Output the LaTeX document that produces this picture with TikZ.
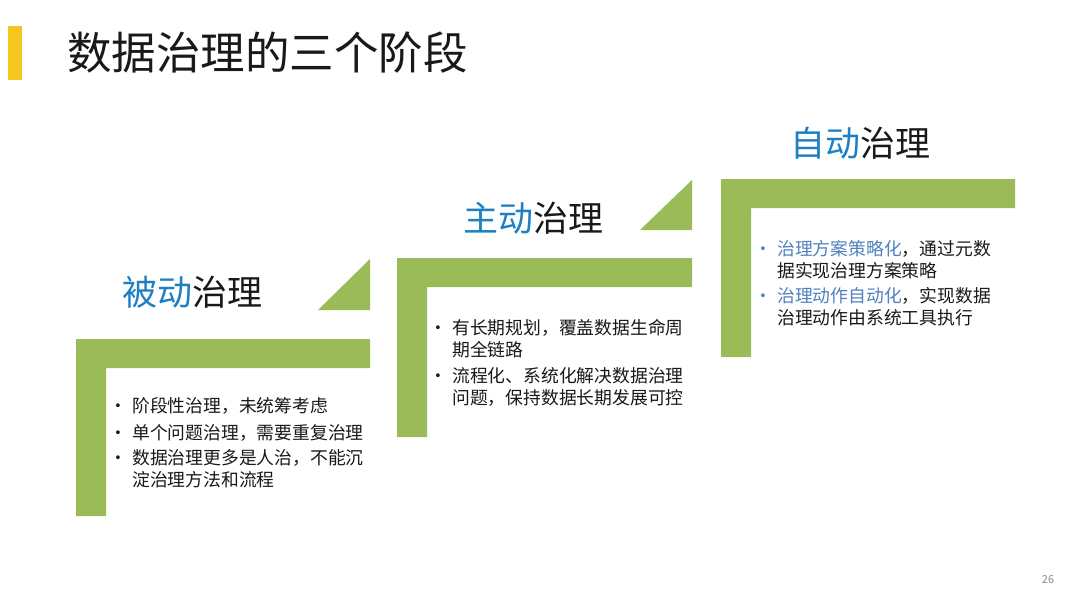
\documentclass[tikz,border=0pt]{standalone}
\usepackage{fontspec}
\setmainfont{Noto Sans CJK SC}
\definecolor{leaf}{HTML}{9BBB59}
\definecolor{bargold}{RGB}{245,198,30}
\definecolor{sky}{RGB}{30,128,196}
\definecolor{steel}{RGB}{79,129,189}
\definecolor{ink}{RGB}{25,25,25}
\tikzset{
  stage/.style={anchor=west,inner sep=0pt,text=ink,font=\fontsize{35}{40}\selectfont},
  itm/.style={anchor=base west,align=left,inner sep=0pt,text=ink,font=\fontsize{17.8}{22}\selectfont},
}
\newcommand{\bul}[1][ink]{\llap{\textcolor{#1}{\makebox[28pt]{•}}}}

\begin{document}
\begin{tikzpicture}[x=1pt,y=-1pt]
  \useasboundingbox (0,0) rectangle (1080,608);
  \fill[white] (0,0) rectangle (1080,608);
  % heading
  \fill[bargold] (8,26) rectangle (22,80);
  \node[anchor=west,inner sep=0pt,text=ink,font=\fontsize{44.5}{50}\selectfont] (head) at (67,53) {数据治理的三个阶段};
  % green steps
  \foreach \x/\y/\h/\w in {76/339/177/294, 397/258/179/295, 721/179/178/294}
    \fill[leaf] (\x,\y) -- ++(\w,0) -- ++(0,29) -- ++(-\w+30,0) -- ++(0,\h-29) -- ++(-30,0) -- cycle;
  \fill[leaf] (318,310) -- (370,310) -- (370,259) -- cycle;
  \fill[leaf] (640,230) -- (692,230) -- (692,180) -- cycle;
  % stage titles
  \node[stage] (passive) at (122,292) {\textcolor{sky}{被动}治理};
  \node[stage] (active) at (463,218) {\textcolor{sky}{主动}治理};
  \node[stage] (auto) at (790,143) {\textcolor{sky}{自动}治理};
  % passive (base = last line)
  \node[itm] (p1) at (132,412) {\bul 阶段性治理，未统筹考虑};
  \node[itm] (p2) at (132,439) {\bul 单个问题治理，需要重复治理};
  \node[itm] (p3) at (132,486) {\bul 数据治理更多是人治，不能沉\\淀治理方法和流程};
  % active
  \node[itm] (a1) at (452,356) {\bul 有长期规划，覆盖数据生命周\\期全链路};
  \node[itm] (a2) at (452,404) {\bul 流程化、系统化解决数据治理\\问题，保持数据长期发展可控};
  % automatic
  \node[itm] (u1) at (777,277) {\bul[steel]\textcolor{steel}{治理方案策略化}，通过元数\\据实现治理方案策略};
  \node[itm] (u2) at (777,324) {\bul[steel]\textcolor{steel}{治理动作自动化}，实现数据\\治理动作由系统工具执行};
  % page number
  \node[inner sep=0pt,text=black!45,font=\fontsize{11}{13}\selectfont] (page) at (1048,580) {26};
\end{tikzpicture}
\end{document}
